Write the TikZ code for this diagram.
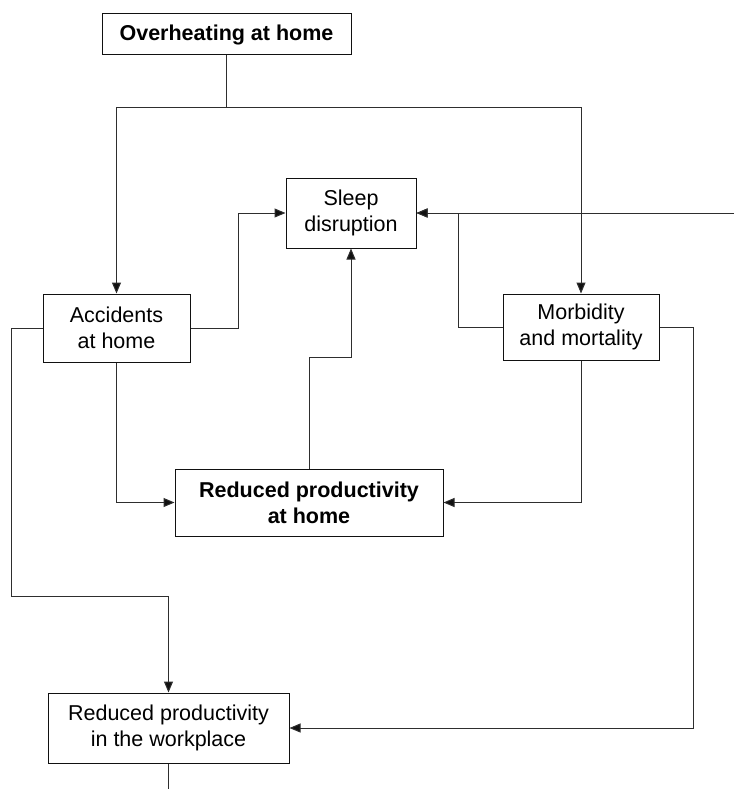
\documentclass[tikz,border=0pt]{standalone}
\usepackage{fontspec}
\setmainfont{Liberation Sans}
\usetikzlibrary{arrows.meta}
\definecolor{cink}{HTML}{111111}
\definecolor{cline}{HTML}{2e2e2e}

\begin{document}
\begin{tikzpicture}[x=1pt, y=-1pt, line width=1pt,
    every node/.style={font=\fontsize{21.5}{26}\selectfont},
    box/.style={draw=cink, fill=white, align=center, inner sep=0pt},
    arr/.style={draw=cline, -{Triangle[length=11pt,width=9pt,fill=cink]}}]
      \useasboundingbox (0,0) rectangle (734,789);
      \node[box, minimum width=249, minimum height=41, font=\fontsize{21.5}{26}\selectfont\bfseries] (heat) at (226.5,34.5) {Overheating at home};
      \node[box, minimum width=130, minimum height=70] (sleep) at (351,213) {Sleep\\disruption};
      \node[box, minimum width=147, minimum height=68] (acc) at (116.5,328) {Accidents\\at home};
      \node[box, minimum width=156, minimum height=66] (morb) at (581,327) {Morbidity\\and mortality};
      \node[box, minimum width=268, minimum height=67, font=\fontsize{21.5}{26}\selectfont\bfseries] (rphome) at (309,502.5) {Reduced productivity\\at home};
      \node[box, minimum width=241, minimum height=70] (rpwork) at (168.5,728) {Reduced productivity\\in the workplace};
      \coordinate (split) at (226.5,108);
      \coordinate (rin) at (734,213);
      \coordinate (lft) at (11,596);
      \coordinate (rgt) at (693,728);
      \coordinate (rout) at (168.5,789);
      \draw[cline] (heat) -- (split);
      \draw[arr] (split) -| (acc);
      \draw[arr] (split) -| (morb);
      \draw[arr] (acc.east) -- ++(48,0) |- (sleep.west);
      \draw[arr] (morb.west) -- ++(-44,0) |- (sleep.east);
      \draw[arr] (rin) -- (sleep.east);
      \draw[arr] (rphome.north) -- ++(0,-111) -| (sleep.south);
      \draw[arr] (acc.south) |- (rphome.west);
      \draw[arr] (morb.south) |- (rphome.east);
      \draw[arr] (acc.west) -| (lft) -| (rpwork.north);
      \draw[arr] (morb.east) -| (rgt) -- (rpwork.east);
      \draw[cline] (rpwork) -- (rout);
    \end{tikzpicture}
\end{document}
